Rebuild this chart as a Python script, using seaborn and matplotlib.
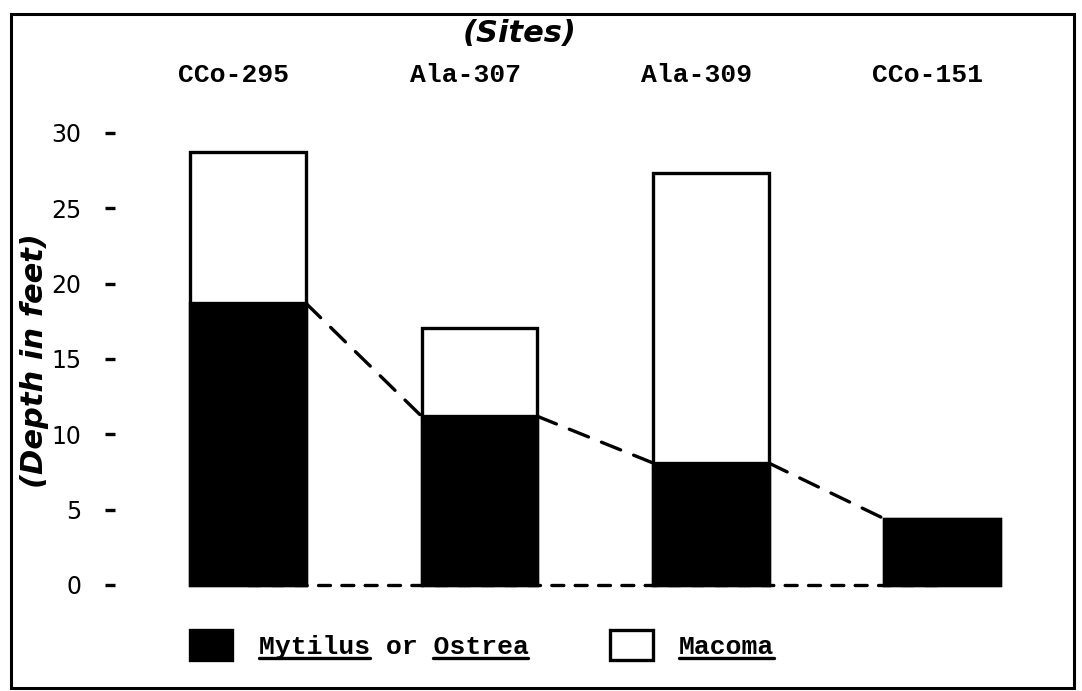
import matplotlib.pyplot as plt
import matplotlib.transforms as mtransforms
from matplotlib.patches import Patch, Rectangle
from matplotlib.lines import Line2D
import seaborn as sns
import pandas as pd

# Data (depth in feet)
sites = ['CCo-295', 'Ala-307', 'Ala-309', 'CCo-151']
mytilus = [18.7, 11.2, 8.1, 4.4]      # black part (Mytilus or Ostrea)
total = [28.7, 17.05, 27.35, 4.4]     # top of the bar (Macoma on top)
yticks = [0, 5, 10, 15, 20, 25, 30]

df = pd.DataFrame({'site': sites, 'mytilus': mytilus, 'total': total})

sns.set_style('white')
plt.rcParams['font.family'] = ['DejaVu Sans']
plt.rcParams['text.color'] = 'black'
plt.rcParams['axes.labelcolor'] = 'black'
plt.rcParams['xtick.color'] = 'black'
plt.rcParams['ytick.color'] = 'black'
mono = 'Liberation Mono'

fig = plt.figure(figsize=(10.82, 6.91), dpi=100)
ax = fig.add_axes([115 / 1082, 1 - 597 / 691, 945 / 1082, 482 / 691])

# Stacked bars: white full height, then black lower part
sns.barplot(data=df, x='site', y='total', color='white', edgecolor='black',
            linewidth=2.4, width=0.5, ax=ax, zorder=3)
sns.barplot(data=df, x='site', y='mytilus', color='black', edgecolor='black',
            linewidth=2.4, width=0.5, ax=ax, zorder=4)
for p in ax.patches:
    p.set_facecolor(p.get_facecolor()[:3] + (1.0,))

# dashed line joining the tops of the black bars (edge to edge)
xs, ys = [], []
for i in range(len(mytilus) - 1):
    xs += [i + 0.25, i + 0.75, float('nan')]
    ys += [mytilus[i], mytilus[i + 1], float('nan')]
ax.plot(xs, ys, color='black', lw=2.4, linestyle=(0, (6.2, 4.2)), zorder=2,
        dash_capstyle='round')

# short dashed line along zero between bars
ax.plot([0, len(sites) - 1], [0, 0], color='black', lw=2.4,
        linestyle=(0, (3.6, 3.4)), zorder=2, dash_capstyle='round')

ax.set_xlim(-0.575, 3.51)
ax.set_ylim(-12 / 15.07, 470 / 15.07)
ax.set_yticks(yticks)
ax.set_yticklabels([str(t) for t in yticks], fontsize=17)
ax.tick_params(axis='y', length=7, width=2.4, pad=17, color='black', left=True)
ax.xaxis.tick_top()
ax.tick_params(axis='x', length=0, pad=20)
for lab in ax.get_xticklabels():
    lab.set_fontfamily(mono)
    lab.set_fontweight('bold')
    lab.set_fontsize(19)
    lab.set_transform(lab.get_transform() +
                      mtransforms.ScaledTranslation(-0.14, 0, fig.dpi_scale_trans))
ax.set_xlabel('')
ax.set_ylabel('(Depth in feet)', fontsize=22, fontweight='bold', style='italic')
ax.yaxis.set_label_coords(-66 / 945, 0.49)
for s in ax.spines.values():
    s.set_visible(False)

fig.text(520 / 1082, 1 - 33 / 691, '(Sites)', fontsize=22, fontweight='bold',
         style='italic', ha='center', va='center')

# legend
handles = [Patch(facecolor='black', edgecolor='black', linewidth=2.4),
           Patch(facecolor='white', edgecolor='black', linewidth=2.4)]
labels = ['Mytilus or Ostrea', 'Macoma']
leg = fig.legend(handles, labels, loc='center left', ncol=2, frameon=False,
                 bbox_to_anchor=(190 / 1082, 1 - 645 / 691), borderpad=0,
                 borderaxespad=0, handlelength=1.6, handleheight=1.4,
                 handletextpad=1.0, columnspacing=3.1,
                 prop={'family': mono, 'weight': 'bold', 'size': 19})

# underline the genus names (monospace, so split by character count)
fig.canvas.draw()
r = fig.canvas.get_renderer()
inv = fig.transFigure.inverted()
spans = [[(0, 7), (11, 17)], [(0, 6)]]
for txt, sp in zip(leg.get_texts(), spans):
    bb = txt.get_window_extent(r)
    n = len(txt.get_text())
    cw = bb.width / n
    yline = bb.y0 + 1
    for a, b in sp:
        (x0, y0), (x1, _) = inv.transform([(bb.x0 + a * cw, yline), (bb.x0 + b * cw, yline)])
        fig.add_artist(Line2D([x0, x1], [y0, y0], color='black', lw=2.4,
                              transform=fig.transFigure))

# outer frame
fig.add_artist(Rectangle((11 / 1082, 3 / 691), 1063 / 1082, 674 / 691,
                         fill=False, edgecolor='black', lw=2.2,
                         transform=fig.transFigure))

fig.savefig('out.png', dpi=100)
